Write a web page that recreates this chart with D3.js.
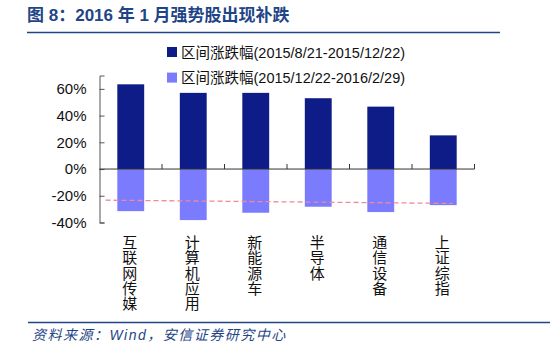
<!DOCTYPE html>
<html>
<head>
<meta charset="utf-8">
<script src="https://cdn.jsdelivr.net/npm/d3@7"></script>
<style>
  body { margin: 0; background: #fff; }
  text { font-family: Arial, "Liberation Sans", "Noto Sans CJK SC", sans-serif; }
</style>
</head>
<body>
<div id="chart"></div>
<script>
const categories = ["互联网传媒", "计算机应用", "新能源车", "半导体", "通信设备", "上证综指"];
const firstPeriod  = [63.4, 57.0, 57.0, 53.0, 46.7, 25.2];
const secondPeriod = [-31.5, -38.2, -32.7, -28.2, -32.2, -27.0];
const seriesNames = ["区间涨跌幅(2015/8/21-2015/12/22)", "区间涨跌幅(2015/12/22-2016/2/29)"];
const yTicks = [-40, -20, 0, 20, 40, 60];
// dashed reference line, start and end level
const refLine = [-23.3, -25.7];

const W = 550, H = 351;
const dim = {left: 99.5, right: 474.5, top: 75.5, bottom: 222.5};
const colors = {dark: "#0d1c86", light: "#7b7bfd", title: "#1f4587", axis: "#555"};

const svg = d3.select("#chart").append("svg")
  .attr("width", W).attr("height", H);

// title + rule
svg.append("text")
  .attr("x", 27).attr("y", 21)
  .attr("fill", colors.title)
  .attr("font-size", 17).attr("font-weight", "bold")
  .text("图 8：2016 年 1 月强势股出现补跌");
svg.append("line")
  .attr("x1", 27).attr("x2", 500).attr("y1", 32.5).attr("y2", 32.5)
  .attr("stroke", colors.title).attr("stroke-width", 1.5);

const x = d3.scaleBand().domain(categories).range([dim.left, dim.right]).paddingInner(0.57).paddingOuter(0.285);
const y = d3.scaleLinear().domain([-40, 70]).range([dim.bottom, dim.top]);

// bars
svg.append("g").selectAll("rect").data(categories).join("rect")
  .attr("x", d => x(d)).attr("width", x.bandwidth())
  .attr("y", (d, i) => y(firstPeriod[i]))
  .attr("height", (d, i) => y(0) - y(firstPeriod[i]))
  .attr("fill", colors.dark);
svg.append("g").selectAll("rect").data(categories).join("rect")
  .attr("x", d => x(d)).attr("width", x.bandwidth())
  .attr("y", y(0))
  .attr("height", (d, i) => y(secondPeriod[i]) - y(0))
  .attr("fill", colors.light);

// y axis
const yAxis = svg.append("g")
  .attr("transform", `translate(${dim.left},0)`)
  .call(d3.axisLeft(y).tickValues(yTicks).tickSize(-5).tickPadding(13).tickFormat(d => d + "%"));
yAxis.select(".domain").attr("stroke", colors.axis);
yAxis.selectAll(".tick line").attr("stroke", colors.axis);
yAxis.selectAll("text").attr("font-size", 15).attr("fill", "#111");

// zero line with category boundary ticks
const xAxis = svg.append("g")
  .attr("transform", `translate(0,${y(0)})`);
xAxis.append("line")
  .attr("x1", dim.left).attr("x2", dim.right)
  .attr("stroke", "#333").attr("stroke-width", 1);
const boundary = d => x(d) - x.step() * x.paddingInner() / 2 + x.step();
xAxis.selectAll(".btick").data(categories).join("line")
  .attr("class", "btick")
  .attr("x1", boundary).attr("x2", boundary)
  .attr("y1", 0).attr("y2", -5)
  .attr("stroke", "#333");

// category labels, vertical: one text per character
const labels = svg.append("g").selectAll("g").data(categories).join("g")
  .attr("transform", d => `translate(${x(d) + x.bandwidth() / 2 - 1},248)`);
labels.selectAll("text").data(d => d.split("")).join("text")
  .attr("y", (c, i) => i * 15.3)
  .attr("font-size", 15).attr("fill", "#111")
  .attr("text-anchor", "middle")
  .text(c => c);

// dashed reference line
svg.append("line")
  .attr("x1", dim.left + 6).attr("x2", x(categories[5]) + x.bandwidth() - 4)
  .attr("y1", y(refLine[0])).attr("y2", y(refLine[1]))
  .attr("stroke", "#f08a98").attr("stroke-width", 1.3)
  .attr("stroke-dasharray", "5,3");

// legend
const legend = svg.append("g").selectAll("g").data(seriesNames).join("g")
  .attr("transform", (d, i) => `translate(167,${52 + i * 25.6})`);
legend.append("rect")
  .attr("x", 0).attr("y", -5).attr("width", 10).attr("height", 10)
  .attr("fill", (d, i) => i ? colors.light : colors.dark);
legend.append("text")
  .attr("x", 14).attr("y", 5.5)
  .attr("font-size", 14.5).attr("fill", "#111")
  .text(d => d);

// footer
svg.append("line")
  .attr("x1", 28).attr("x2", 550).attr("y1", 322.5).attr("y2", 322.5)
  .attr("stroke", colors.title).attr("stroke-width", 1.5);
svg.append("text")
  .attr("x", 32).attr("y", 340)
  .attr("fill", colors.title).attr("font-size", 14).attr("font-style", "italic")
  .attr("letter-spacing", 1.5)
  .text("资料来源：Wind，安信证券研究中心");
</script>
</body>
</html>
